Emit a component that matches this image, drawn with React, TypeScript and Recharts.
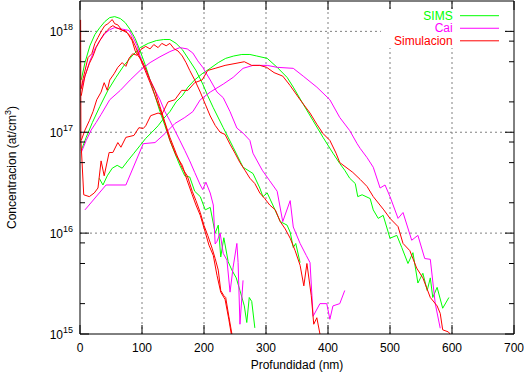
import React from 'react';
import { LineChart, Line, XAxis, YAxis, ReferenceLine, Legend } from 'recharts';

type Pt = [number, number];

// ---- data: [depth nm, concentration at/cm3] ----
const simsShallow: Pt[] = [
  [2, 3.3e17], [8, 4.9e17], [16, 7.2e17], [24, 9.3e17], [32, 1.09e18], [40, 1.25e18], [48, 1.37e18],
  [56, 1.4e18], [65, 1.34e18], [73, 1.22e18], [81, 1.04e18], [89, 8.5e17], [97, 6.4e17], [105, 4.7e17],
  [113, 3.3e17], [121, 2.3e17], [129, 1.6e17], [137, 1.16e17], [145, 8.3e16], [153, 6.2e16], [161, 4.7e16],
  [169, 3.7e16], [177, 3.6e16], [185, 2.6e16], [194, 2.3e16], [202, 1.7e16], [210, 1.8e16], [218, 1.0e16],
  [223, 1.2e16], [227, 5.8e15], [232, 9.0e15], [239, 5.2e15], [245, 4.3e15], [252, 3.6e15], [258, 2.7e15],
  [265, 1.9e15], [269, 1.3e15], [273, 2.3e15], [277, 2.1e15], [282, 1.15e15],
];

const simsMid: Pt[] = [
  [2, 6.6e16], [10, 8.9e16], [20, 1.25e17], [32, 1.8e17], [45, 2.6e17], [58, 3.5e17], [71, 4.6e17],
  [84, 5.7e17], [97, 6.9e17], [110, 7.6e17], [123, 8.1e17], [135, 8.3e17], [145, 8.3e17], [155, 7.6e17],
  [165, 6.6e17], [177, 5.1e17], [187, 4.1e17], [198, 3.0e17], [206, 2.3e17], [215, 1.75e17], [231, 1.11e17],
  [247, 7.1e16], [263, 4.5e16], [279, 3.9e16], [290, 2.8e16], [295, 2.3e16], [302, 2.5e16], [311, 1.9e16],
  [323, 1.3e16], [334, 1.2e16], [339, 1.02e16], [344, 7.2e15], [348, 7.9e15], [355, 5.1e15],
];

const simsDeep: Pt[] = [
  [31, 3.5e16], [37, 3.0e16], [44, 3.7e16], [52, 4.4e16], [60, 4.7e16], [68, 4.4e16], [77, 5.2e16],
  [87, 6.2e16], [97, 7.4e16], [106, 8.7e16], [116, 1.0e17], [126, 1.16e17], [135, 1.37e17], [145, 1.6e17],
  [155, 2.0e17], [165, 2.3e17], [174, 2.8e17], [185, 3.3e17], [197, 3.8e17], [210, 4.3e17], [223, 4.9e17],
  [235, 5.4e17], [248, 5.7e17], [261, 5.9e17], [274, 5.9e17], [285, 5.7e17], [302, 5.4e17], [318, 4.4e17],
  [334, 3.5e17], [344, 2.8e17], [360, 1.9e17], [376, 1.3e17], [392, 8.9e16], [408, 6.2e16], [419, 4.9e16],
  [427, 4.2e16], [435, 3.5e16], [444, 3.1e16], [448, 2.3e16], [455, 2.4e16], [468, 2.2e16], [473, 1.7e16],
  [481, 1.4e16], [489, 1.5e16], [500, 8.9e15], [511, 9.5e15], [519, 7.2e15], [529, 5.0e15], [537, 6.4e15],
  [545, 3.2e15], [553, 4.0e15], [560, 2.7e15], [565, 3.6e15], [569, 2.3e15], [576, 2.9e15], [585, 1.8e15],
  [595, 2.3e15],
];

const caiShallow: Pt[] = [
  [2, 2.7e17], [8, 3.6e17], [16, 5.1e17], [24, 6.7e17], [32, 8.1e17], [40, 9.5e17], [48, 1.04e18],
  [56, 1.09e18], [65, 1.06e18], [73, 1.04e18], [79, 1.02e18], [85, 8.9e17], [92, 7.2e17], [98, 5.4e17],
  [105, 4.3e17], [113, 3.3e17], [121, 2.6e17], [129, 2.1e17], [137, 1.6e17], [145, 1.3e17], [153, 1.04e17],
  [161, 8.3e16], [169, 6.6e16], [177, 5.2e16], [185, 4.0e16], [194, 3.0e16], [198, 2.7e16], [203, 3.2e16],
  [210, 2.5e16], [215, 1.9e16], [218, 7.8e15], [221, 8.3e15], [226, 1.0e16], [231, 6.3e15], [237, 5.4e15],
  [242, 2.6e15], [247, 4.6e15], [253, 7.9e15], [255, 5.1e15], [258, 1.25e15], [263, 3.4e15],
];

const caiMid: Pt[] = [
  [2, 6.3e16], [10, 8.3e16], [18, 1.05e17], [26, 1.25e17], [34, 1.5e17], [48, 2.1e17], [65, 2.6e17],
  [81, 3.3e17], [97, 4.1e17], [113, 4.9e17], [129, 5.6e17], [145, 6.3e17], [161, 6.9e17], [173, 6.7e17],
  [182, 6.1e17], [190, 5.1e17], [198, 4.4e17], [210, 3.3e17], [221, 2.5e17], [231, 2.2e17], [242, 1.6e17],
  [253, 1.1e17], [263, 9.8e16], [274, 8.3e16], [279, 6.2e16], [285, 5.3e16], [294, 4.2e16], [306, 3.3e16],
  [318, 2.6e16], [327, 1.3e16], [339, 2.1e16], [344, 1.15e16], [355, 7.9e15], [365, 6.0e15], [371, 5.1e15],
  [376, 1.5e15], [387, 2.0e15], [398, 2.0e15], [403, 1.4e15], [408, 1.9e15], [419, 2.0e15], [427, 2.7e15],
];

const caiDeep: Pt[] = [
  [8, 1.7e16], [42, 3.0e16], [74, 3.0e16], [102, 7.7e16], [121, 7.9e16], [137, 9.7e16], [153, 1.22e17],
  [169, 1.4e17], [182, 1.6e17], [194, 2.1e17], [210, 2.5e17], [231, 3.0e17], [247, 3.5e17], [263, 4.3e17],
  [279, 4.6e17], [302, 4.6e17], [318, 4.4e17], [344, 4.3e17], [360, 3.6e17], [382, 2.8e17], [403, 2.1e17],
  [419, 1.4e17], [435, 1.04e17], [447, 7.7e16], [452, 6.9e16], [463, 5.6e16], [473, 4.5e16], [484, 2.8e16],
  [492, 3.0e16], [500, 2.3e16], [513, 1.4e16], [521, 1.6e16], [535, 8.5e15], [545, 9.5e15], [556, 5.6e15],
  [565, 5.5e15], [573, 2.0e15], [581, 1.14e15],
];

const simShallowA: Pt[] = [
  [2, 2.7e17], [5, 3.4e17], [13, 5.5e17], [19, 6.0e17], [24, 7.6e17], [29, 8.7e17], [35, 1.02e18],
  [40, 1.14e18], [45, 1.19e18], [52, 1.31e18], [56, 1.19e18], [61, 1.16e18], [68, 1.02e18], [73, 1.02e18],
  [77, 9.5e17], [84, 8.1e17], [89, 6.4e17], [94, 5.7e17], [100, 5.1e17], [105, 4.4e17], [113, 3.3e17],
  [121, 2.6e17], [129, 1.8e17], [137, 1.25e17], [145, 8.9e16], [155, 6.2e16], [165, 4.4e16], [173, 3.7e16],
  [181, 2.6e16], [187, 2.1e16], [194, 1.6e16], [200, 1.19e16], [206, 9.5e15], [213, 7.1e15], [218, 5.6e15],
  [223, 4.3e15], [227, 2.7e15], [232, 2.4e15], [235, 2.3e15], [240, 1.5e15], [245, 1.0e15],
];

const simShallowB: Pt[] = [
  [2, 2.3e17], [8, 3.6e17], [15, 4.8e17], [21, 5.7e17], [26, 6.9e17], [32, 8.1e17], [39, 9.5e17],
  [44, 1.02e18], [48, 1.09e18], [53, 1.14e18], [58, 1.09e18], [63, 1.06e18], [69, 1.02e18], [76, 9.7e17],
  [82, 8.9e17], [89, 7.2e17], [97, 5.4e17], [105, 4.1e17], [113, 3.1e17], [121, 2.3e17], [129, 1.7e17],
  [137, 1.22e17], [145, 8.3e16], [155, 5.9e16], [165, 4.7e16], [173, 3.3e16], [181, 2.4e16], [187, 1.9e16],
  [194, 1.5e16], [202, 1.02e16], [208, 7.6e15], [215, 6.0e15], [221, 3.8e15], [227, 2.6e15], [234, 2.2e15],
  [240, 1.4e15], [244, 1.0e15],
];

const simMid: Pt[] = [
  [2, 8.3e16], [8, 1.05e17], [15, 1.3e17], [21, 1.6e17], [27, 2.1e17], [34, 2.5e17], [39, 3.1e17],
  [44, 2.6e17], [48, 3.3e17], [55, 3.8e17], [61, 4.4e17], [68, 4.9e17], [74, 4.5e17], [79, 5.4e17],
  [85, 6.0e17], [92, 5.8e17], [98, 6.6e17], [106, 7.1e17], [113, 6.7e17], [119, 7.4e17], [126, 6.9e17],
  [132, 7.6e17], [139, 7.2e17], [145, 7.6e17], [152, 6.7e17], [158, 6.4e17], [165, 5.7e17], [171, 4.9e17],
  [177, 4.1e17], [185, 3.3e17], [194, 2.5e17], [202, 1.9e17], [210, 1.45e17], [218, 1.17e17], [226, 1.0e17],
  [234, 9.5e16], [242, 7.6e16], [250, 6.2e16], [258, 5.0e16], [266, 4.2e16], [274, 3.5e16], [282, 3.1e16],
  [290, 2.5e16], [298, 2.2e16], [306, 1.9e16], [315, 1.7e16], [323, 1.3e16], [331, 1.1e16], [339, 8.9e15],
  [347, 6.7e15], [355, 4.8e15], [361, 3.0e15], [366, 5.0e15], [373, 2.4e15], [377, 1.25e15], [382, 1.45e15],
  [387, 1.0e15],
];

const simDeep: Pt[] = [
  [1, 1.3e18], [1.5, 8.3e16], [6, 2.4e16], [15, 2.3e16], [23, 2.5e16], [29, 2.8e16], [34, 5.2e16],
  [39, 3.7e16], [47, 6.3e16], [53, 6.3e16], [61, 7.9e16], [66, 7.1e16], [74, 8.9e16], [87, 9.3e16],
  [95, 1.11e17], [102, 1.09e17], [106, 1.16e17], [114, 1.46e17], [126, 1.55e17], [132, 1.5e17], [142, 2.0e17],
  [153, 2.1e17], [164, 2.6e17], [174, 2.6e17], [185, 3.1e17], [197, 3.3e17], [206, 4.1e17], [218, 4.3e17],
  [234, 4.6e17], [250, 4.8e17], [265, 5.0e17], [277, 4.6e17], [290, 4.6e17], [301, 4.4e17], [313, 3.9e17],
  [327, 3.6e17], [339, 2.9e17], [355, 2.1e17], [371, 1.55e17], [382, 1.2e17], [392, 9.7e16], [403, 8.3e16],
  [413, 6.2e16], [419, 5.0e16], [440, 4.0e16], [452, 3.4e16], [463, 2.9e16], [473, 2.3e16], [490, 1.7e16],
  [500, 1.4e16], [513, 1.16e16], [521, 7.9e15], [532, 6.7e15], [543, 4.5e15], [553, 3.6e15], [565, 2.3e15],
  [576, 1.9e15], [581, 1.6e15], [585, 1.1e15], [594, 1.05e15], [597, 1.0e15],
];

const xTicks = [0, 100, 200, 300, 400, 500, 600, 700];
const yTicks = [1e15, 2e15, 5e15, 8e15, 1e16, 2e16, 5e16, 8e16, 1e17, 2e17, 5e17, 8e17, 1e18];
const gridX = [100, 200, 300, 400, 500, 600];
const gridY = [1e16, 1e17, 1e18];
const legendLabels = ['SIMS', 'Cai', 'Simulacion'];

// ---- styles ----
const GREEN = '#00ff00';
const MAGENTA = '#ff00ff';
const RED = '#ff0000';
const legendColors = [GREEN, MAGENTA, RED];
const FONT = '"Liberation Sans", Arial, Helvetica, sans-serif';

const series = [
  { id: 'simsShallow', data: simsShallow, color: GREEN },
  { id: 'simsMid', data: simsMid, color: GREEN },
  { id: 'simsDeep', data: simsDeep, color: GREEN },
  { id: 'caiShallow', data: caiShallow, color: MAGENTA },
  { id: 'caiMid', data: caiMid, color: MAGENTA },
  { id: 'caiDeep', data: caiDeep, color: MAGENTA },
  { id: 'simShallowA', data: simShallowA, color: RED },
  { id: 'simShallowB', data: simShallowB, color: RED },
  { id: 'simMid', data: simMid, color: RED },
  { id: 'simDeep', data: simDeep, color: RED },
];

const rows = (pts: Pt[]) => pts.map(([x, y]) => ({ x, y }));

const isMajor = (v: number) => Math.abs(Math.log10(v) - Math.round(Math.log10(v))) < 1e-6;

function BottomTick(props: any) {
  const { x, y, payload } = props;
  return (
    <g>
      <line x1={x} y1={y} x2={x} y2={y - 9} stroke="#000" />
      <text x={x} y={y + 17.5} textAnchor="middle" fontSize={12} fontFamily={FONT} fill="#000">
        {payload.value}
      </text>
    </g>
  );
}

function TopTick(props: any) {
  const { x, y } = props;
  return <line x1={x} y1={y} x2={x} y2={y + 9} stroke="#000" />;
}

function LeftTick(props: any) {
  const { x, y, payload } = props;
  const major = isMajor(payload.value);
  const exp = Math.round(Math.log10(payload.value));
  return (
    <g>
      <line x1={x} y1={y} x2={x + (major ? 9 : 5)} y2={y} stroke="#000" />
      {major && (
        <text x={x - 7} y={y + 5} textAnchor="end" fontSize={12} fontFamily={FONT} fill="#000">
          10
          <tspan dy={-6.5} fontSize={9}>
            {exp}
          </tspan>
        </text>
      )}
    </g>
  );
}

function RightTick(props: any) {
  const { x, y, payload } = props;
  const major = isMajor(payload.value);
  return <line x1={x} y1={y} x2={x - (major ? 9 : 5)} y2={y} stroke="#000" />;
}

function XTitle(props: any) {
  const vb = props.viewBox || {};
  return (
    <text x={vb.x + vb.width / 2} y={vb.y + 34.5} textAnchor="middle" fontSize={12} fontFamily={FONT} fill="#000">
      Profundidad (nm)
    </text>
  );
}

function YTitle(props: any) {
  const vb = props.viewBox || {};
  const cy = vb.y + vb.height / 2;
  const cx = 15.5;
  return (
    <text
      x={cx}
      y={cy}
      transform={`rotate(-90 ${cx} ${cy})`}
      textAnchor="middle"
      fontSize={12}
      fontFamily={FONT}
      fill="#000"
    >
      Concentracion (at/cm
      <tspan dy={-5} fontSize={9}>
        3
      </tspan>
      <tspan dy={5}>)</tspan>
    </text>
  );
}

function LegendBox() {
  return (
    <svg width={122} height={39} style={{ display: 'block' }}>
      {legendLabels.map((label, i) => (
        <g key={label}>
          <text
            x={71.7}
            y={10.5 + i * 12.65}
            textAnchor="end"
            fontSize={12}
            fontFamily={FONT}
            fill={legendColors[i]}
          >
            {label}
          </text>
          <line x1={79} x2={118} y1={6.7 + i * 12.55} y2={6.7 + i * 12.55} stroke={legendColors[i]} />
        </g>
      ))}
    </svg>
  );
}

export default function App() {
  return (
    <div style={{ position: 'absolute', left: 0, top: 0, background: '#fff' }}>
      <LineChart width={524} height={372} margin={{ top: 0, right: 0, bottom: 8, left: 8 }}>
        <XAxis
          dataKey="x"
          type="number"
          domain={[0, 700]}
          ticks={xTicks}
          interval={0}
          allowDataOverflow
          height={30}
          tickSize={0}
          tickMargin={0}
          tickLine={false}
          axisLine={{ stroke: '#000' }}
          tick={<BottomTick />}
          label={{ content: (p: any) => <XTitle {...p} /> }}
        />
        <XAxis
          xAxisId="top"
          orientation="top"
          dataKey="x"
          type="number"
          domain={[0, 700]}
          ticks={xTicks}
          interval={0}
          allowDataOverflow
          height={1}
          tickSize={0}
          tickMargin={0}
          tickLine={false}
          axisLine={{ stroke: '#000' }}
          tick={<TopTick />}
        />
        <YAxis
          type="number"
          scale="log"
          domain={[1e15, 2e18]}
          ticks={yTicks}
          interval={0}
          allowDataOverflow
          width={72}
          tickSize={0}
          tickMargin={0}
          tickLine={false}
          axisLine={{ stroke: '#000' }}
          tick={<LeftTick />}
          label={{ content: (p: any) => <YTitle {...p} /> }}
        />
        <YAxis
          yAxisId="right"
          orientation="right"
          type="number"
          scale="log"
          domain={[1e15, 2e18]}
          ticks={yTicks}
          interval={0}
          allowDataOverflow
          width={10}
          tickSize={0}
          tickMargin={0}
          tickLine={false}
          axisLine={{ stroke: '#000' }}
          tick={<RightTick />}
        />
        {gridX.map((v) => (
          <ReferenceLine key={`gx${v}`} x={v} stroke="#808080" strokeDasharray="2 3" />
        ))}
        {gridY.map((v) => (
          <ReferenceLine key={`gy${v}`} y={v} stroke="#808080" strokeDasharray="2 3" />
        ))}
        {series.map((s) => (
          <Line
            key={s.id}
            data={rows(s.data)}
            dataKey="y"
            type="linear"
            stroke={s.color}
            strokeWidth={1}
            dot={false}
            activeDot={false}
            isAnimationActive={false}
            legendType="none"
          />
        ))}
        <Legend
          layout="vertical"
          align="center"
          verticalAlign="middle"
          wrapperStyle={{ left: 381, top: 9, width: 122, height: 39, background: '#fff', margin: 0, padding: 0 }}
          content={() => <LegendBox />}
        />
      </LineChart>
    </div>
  );
}
